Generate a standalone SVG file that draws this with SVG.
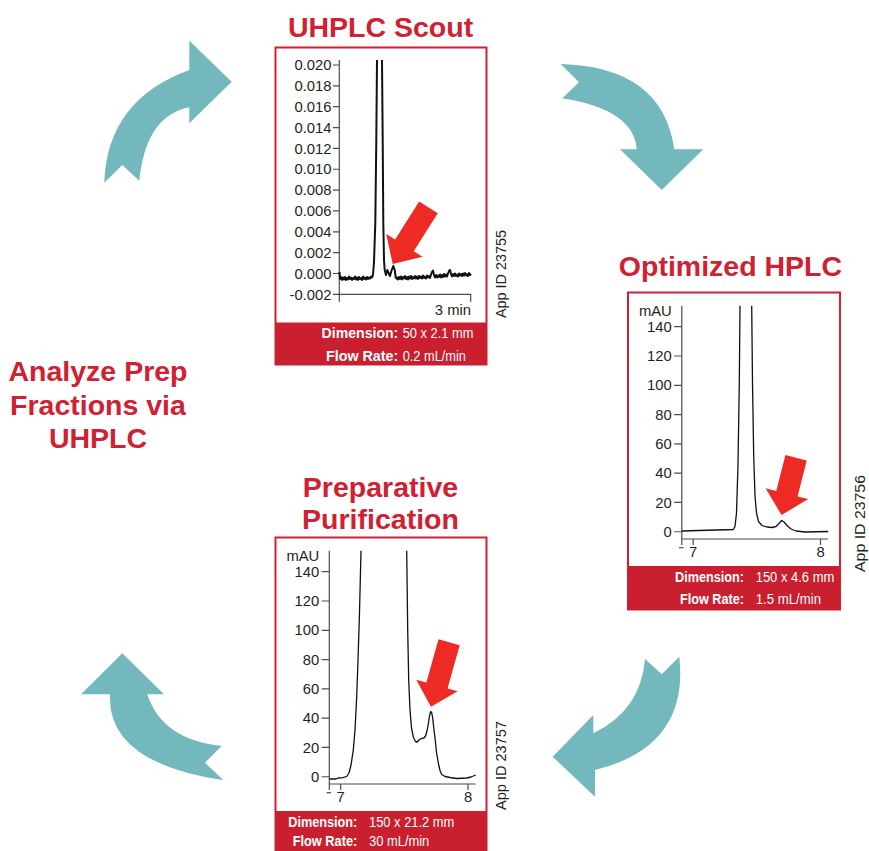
<svg xmlns="http://www.w3.org/2000/svg" width="869" height="851" viewBox="0 0 869 851">
<defs>
<style>
.title{font-family:"Liberation Sans",Arial,sans-serif;font-weight:bold;font-size:28.5px;fill:#cf2131;text-anchor:middle}
.box{fill:#ffffff;stroke:#cf2131;stroke-width:2}
.foot{fill:#c91f2e}
.lab{font-family:"Liberation Sans",Arial,sans-serif;font-size:14.8px;fill:#231f20}
.r{text-anchor:end}
.m{text-anchor:middle}
.fk{font-family:"Liberation Sans",Arial,sans-serif;font-weight:bold;font-size:14px;fill:#ffffff;text-anchor:end}
.fv{font-family:"Liberation Sans",Arial,sans-serif;font-size:14px;fill:#ffffff}
.app{font-family:"Liberation Sans",Arial,sans-serif;font-size:14px;fill:#231f20;text-anchor:middle}
.axis{fill:none;stroke:#4d4d4d;stroke-width:1.2}
.trace{fill:none;stroke:#111111;stroke-width:1.3;stroke-linejoin:round}
.noisy{fill:none;stroke:#111111;stroke-width:2;stroke-linejoin:round}
.red{fill:#ee2a24}
.cyc{fill:#72b8bc}
</style>
</defs>

<g id="connectors">
<path class="cyc" d="M104.3,182.7 Q107,100 189.3,70 L189.3,40.7 L231.7,81.7 L189.3,123.3 L189.3,107.3 Q145.7,116 139.3,180.7 L122.3,165 Z"/>
<path class="cyc" d="M560.7,64 Q662.5,66.8 674.3,149.3 L703.3,149.3 L661.7,190 L620,149.3 L636.7,149.3 Q633.9,109.6 562.3,98.3 L579,82.3 Z"/>
<path class="cyc" d="M645,659 L661.7,674.3 L679.3,656.7 Q689.4,746.6 595,770 L595,796.7 L552.7,756.7 L593.3,715 L593.3,733.3 Q640.8,710.4 645,659 Z"/>
<path class="cyc" d="M122.3,653.3 L164,694.3 L147.3,694.3 Q162.1,739.8 221.7,746 L205,762.7 L223.3,780 Q106.8,762.8 110,694.3 L81,694.3 Z"/>
</g>

<g id="node-uhplc-scout">
<text class="title" x="380.5" y="36.7">UHPLC Scout</text>
<rect class="box" x="275.5" y="47.5" width="211" height="317"/>
<rect class="foot" x="275.5" y="322.5" width="211" height="42.5"/>
<path class="axis" d="M339.3,60 V301.7 M339.3,294.4 H470.7 V301.7"/>
<path class="axis" d="M333,65 H339.3 M333,85.85 H339.3 M333,106.7 H339.3 M333,127.55 H339.3 M333,148.4 H339.3 M333,169.25 H339.3 M333,190.1 H339.3 M333,210.95 H339.3 M333,231.8 H339.3 M333,252.65 H339.3 M333,273.5 H339.3 M333,294.35 H339.3"/>
<g class="lab r">
<text x="331.5" y="70.2">0.020</text>
<text x="331.5" y="91.05">0.018</text>
<text x="331.5" y="111.9">0.016</text>
<text x="331.5" y="132.75">0.014</text>
<text x="331.5" y="153.6">0.012</text>
<text x="331.5" y="174.45">0.010</text>
<text x="331.5" y="195.3">0.008</text>
<text x="331.5" y="216.15">0.006</text>
<text x="331.5" y="237">0.004</text>
<text x="331.5" y="257.85">0.002</text>
<text x="331.5" y="278.7">0.000</text>
<text x="331.5" y="299.55">-0.002</text>
</g>
<text class="lab r" x="471" y="315">3 min</text>
<path class="noisy" d="M339.5,272 L340,279 L341,277 L342,280 L343,277.5 L344,279.5 L345,277 L346,280 L347,278 L348,279.5 L349,276.5 L350,279 L351,277.5 L352,280 L353,278 L354,279 L355,276.5 L356,279.5 L357,277.5 L358,280 L359,277 L360,279 L361,278 L362,280 L363,276.5 L364,279 L365,277.5 L366,279.5 L367,277 L368,279 L369,277.5 L370,278.5 L371,276.5 L372,277.5 L373,275 L374,262 L375.3,223 L376.3,140 L377,60 M382,60 L382.7,140 L383.3,223 L384,260 L384.7,270 L386,275 L387.3,270 L388.7,273.3 L390,276 L391.7,270 L393.3,266 L394.7,270 L395.7,277.3 L396.7,278.7 L397,277.5 L398,279.5 L399,277 L400,279 L401,276.5 L402,279.5 L403,277 L404,278.5 L405,276 L406,279 L407,277 L408,279.5 L409,276.5 L410,278.5 L411,276 L412,279 L413,277 L414,278.5 L415,276 L416,278.5 L417,276.5 L418,279 L419,276 L420,278 L421,276.5 L422,278.5 L423,275.5 L424,278 L425,276.5 L426,278.5 L427,275.5 L428,277.5 L429,276 L430,278 L431,274.5 L432,272 L433,270.5 L434,275 L435,277.5 L436,275 L437,277.5 L438,275.5 L439,277 L440,274.5 L441,277.5 L442,275 L443,277 L444,274 L445,276.5 L446,274.5 L447,276.5 L448,273.5 L449,271 L450,270 L451,274 L452,276.5 L453,274 L454,276 L455,273.5 L456,276 L457,274.5 L458,276.5 L459,273.5 L460,275.5 L461,274 L462,276 L463,273.5 L464,275.5 L465,273 L466,275.5 L467,274 L468,276 L469,273 L470,275 L471,274"/>
<polygon class="red" transform="translate(392.7,264) rotate(122.25)" points="-67,-11 -22,-11 -22,-21.5 0,0 -22,21.5 -22,11 -67,11"/>
<text class="fk" x="398.3" y="338.3" textLength="76.7" lengthAdjust="spacingAndGlyphs">Dimension:</text>
<text class="fv" x="402.7" y="338.3" textLength="70.7" lengthAdjust="spacingAndGlyphs">50 x 2.1 mm</text>
<text class="fk" x="398.3" y="360.7" textLength="72.3" lengthAdjust="spacingAndGlyphs">Flow Rate:</text>
<text class="fv" x="402.7" y="360.7" textLength="63.3" lengthAdjust="spacingAndGlyphs">0.2 mL/min</text>
<text class="app" transform="translate(506,274) rotate(-90)" textLength="88" lengthAdjust="spacingAndGlyphs">App ID 23755</text>
</g>

<g id="node-optimized-hplc">
<text class="title" x="730.5" y="276">Optimized HPLC</text>
<rect class="box" x="628" y="292.5" width="212" height="317"/>
<rect class="foot" x="628" y="566" width="212" height="44"/>
<path class="axis" d="M681.8,305.7 V545 M681.8,539 H828.2 M693.2,539 V545 M820.5,539 V545"/>
<path class="axis" d="M674.2,326.7 H681.8 M674.2,355.99 H681.8 M674.2,385.28 H681.8 M674.2,414.57 H681.8 M674.2,443.86 H681.8 M674.2,473.15 H681.8 M674.2,502.44 H681.8 M674.2,531.73 H681.8"/>
<path class="axis" d="M679,547.7 H683.5"/>
<text class="lab r" x="671.8" y="315.7">mAU</text>
<g class="lab r">
<text x="671.8" y="331.9">140</text>
<text x="671.8" y="361.19">120</text>
<text x="671.8" y="390.48">100</text>
<text x="671.8" y="419.77">80</text>
<text x="671.8" y="449.06">60</text>
<text x="671.8" y="478.35">40</text>
<text x="671.8" y="507.64">20</text>
<text x="671.8" y="536.93">0</text>
</g>
<text class="lab m" x="693.2" y="556.7">7</text>
<text class="lab m" x="820.5" y="556.7">8</text>
<path class="trace" d="M681.8,531 L733.3,529.5 L735,526.5 L736.5,513 L738,465 L739.3,383 L740,305.7 M751.7,305.7 L752.5,383 L753.7,456 L755,496 L756.5,513 L758.5,521.5 L762,525.5 L767,527 L772,527.5 L776,526.5 L779,523.5 L781.7,520.5 L784,522 L787,525.5 L791,529 L796,531 L805,532 L828.2,531.5"/>
<polygon class="red" transform="translate(781.5,515) rotate(104.3)" points="-59,-11 -22,-11 -22,-22 0,0 -22,22 -22,11 -59,11"/>
<text class="fk" x="744" y="582" textLength="69" lengthAdjust="spacingAndGlyphs">Dimension:</text>
<text class="fv" x="755.7" y="582" textLength="78.6" lengthAdjust="spacingAndGlyphs">150 x 4.6 mm</text>
<text class="fk" x="744" y="603.5" textLength="64" lengthAdjust="spacingAndGlyphs">Flow Rate:</text>
<text class="fv" x="755.7" y="603.5" textLength="65.3" lengthAdjust="spacingAndGlyphs">1.5 mL/min</text>
<text class="app" transform="translate(865,523.5) rotate(-90)" textLength="97" lengthAdjust="spacingAndGlyphs">App ID 23756</text>
</g>

<g id="node-preparative">
<text class="title" x="380.5" y="496.7">Preparative</text>
<text class="title" x="380.5" y="529.3">Purification</text>
<rect class="box" x="275.5" y="537.5" width="211" height="330"/>
<rect class="foot" x="275.5" y="811" width="211" height="56"/>
<path class="axis" d="M329.3,550.7 V790 M329.3,784 H475.7 M340.7,784 V790 M468,784 V790"/>
<path class="axis" d="M321.7,571.7 H329.3 M321.7,600.99 H329.3 M321.7,630.28 H329.3 M321.7,659.57 H329.3 M321.7,688.86 H329.3 M321.7,718.15 H329.3 M321.7,747.44 H329.3 M321.7,776.73 H329.3"/>
<path class="axis" d="M326.5,792.7 H331"/>
<text class="lab r" x="319.3" y="560.7">mAU</text>
<g class="lab r">
<text x="319.3" y="576.9">140</text>
<text x="319.3" y="606.19">120</text>
<text x="319.3" y="635.48">100</text>
<text x="319.3" y="664.77">80</text>
<text x="319.3" y="694.06">60</text>
<text x="319.3" y="723.35">40</text>
<text x="319.3" y="752.64">20</text>
<text x="319.3" y="781.93">0</text>
</g>
<text class="lab m" x="340.7" y="801.7">7</text>
<text class="lab m" x="468" y="801.7">8</text>
<path class="trace" d="M329.3,779 L336,779 L338,778 L343,777.7 L346.7,776.5 L349,773 L351,765 L353.3,750 L355,730 L356.7,696.7 L358,660 L359.3,620 L360.3,580 L361,550.7 M406.7,550.7 L407.2,590 L407.7,630 L408.7,680 L410,710 L411.5,728 L413.3,737 L415.5,741.5 L417.3,742 L419.5,739.5 L421.7,738.5 L424,738 L425.5,736 L427,731 L428.3,724 L429.5,716 L430.7,711.5 L431.8,713 L432.7,718 L434,730 L435,738 L436.5,752 L438.3,763 L440,770.5 L441.7,774.5 L445,776.5 L450,777.5 L456.7,778.5 L466.7,778 L471,777 L475.7,775"/>
<polygon class="red" transform="translate(431,706.7) rotate(105.7)" points="-67,-11 -22,-11 -22,-21.5 0,0 -22,21.5 -22,11 -67,11"/>
<text class="fk" x="357.3" y="827" textLength="69" lengthAdjust="spacingAndGlyphs">Dimension:</text>
<text class="fv" x="369" y="827" textLength="85.3" lengthAdjust="spacingAndGlyphs">150 x 21.2 mm</text>
<text class="fk" x="357.3" y="845.5" textLength="64.6" lengthAdjust="spacingAndGlyphs">Flow Rate:</text>
<text class="fv" x="369" y="845.5" textLength="60.3" lengthAdjust="spacingAndGlyphs">30 mL/min</text>
<text class="app" transform="translate(506,765.5) rotate(-90)" textLength="89" lengthAdjust="spacingAndGlyphs">App ID 23757</text>
</g>

<g id="node-analyze">
<text class="title" x="98" y="381">Analyze Prep</text>
<text class="title" x="98" y="415">Fractions via</text>
<text class="title" x="98" y="448.3">UHPLC</text>
</g>
</svg>
